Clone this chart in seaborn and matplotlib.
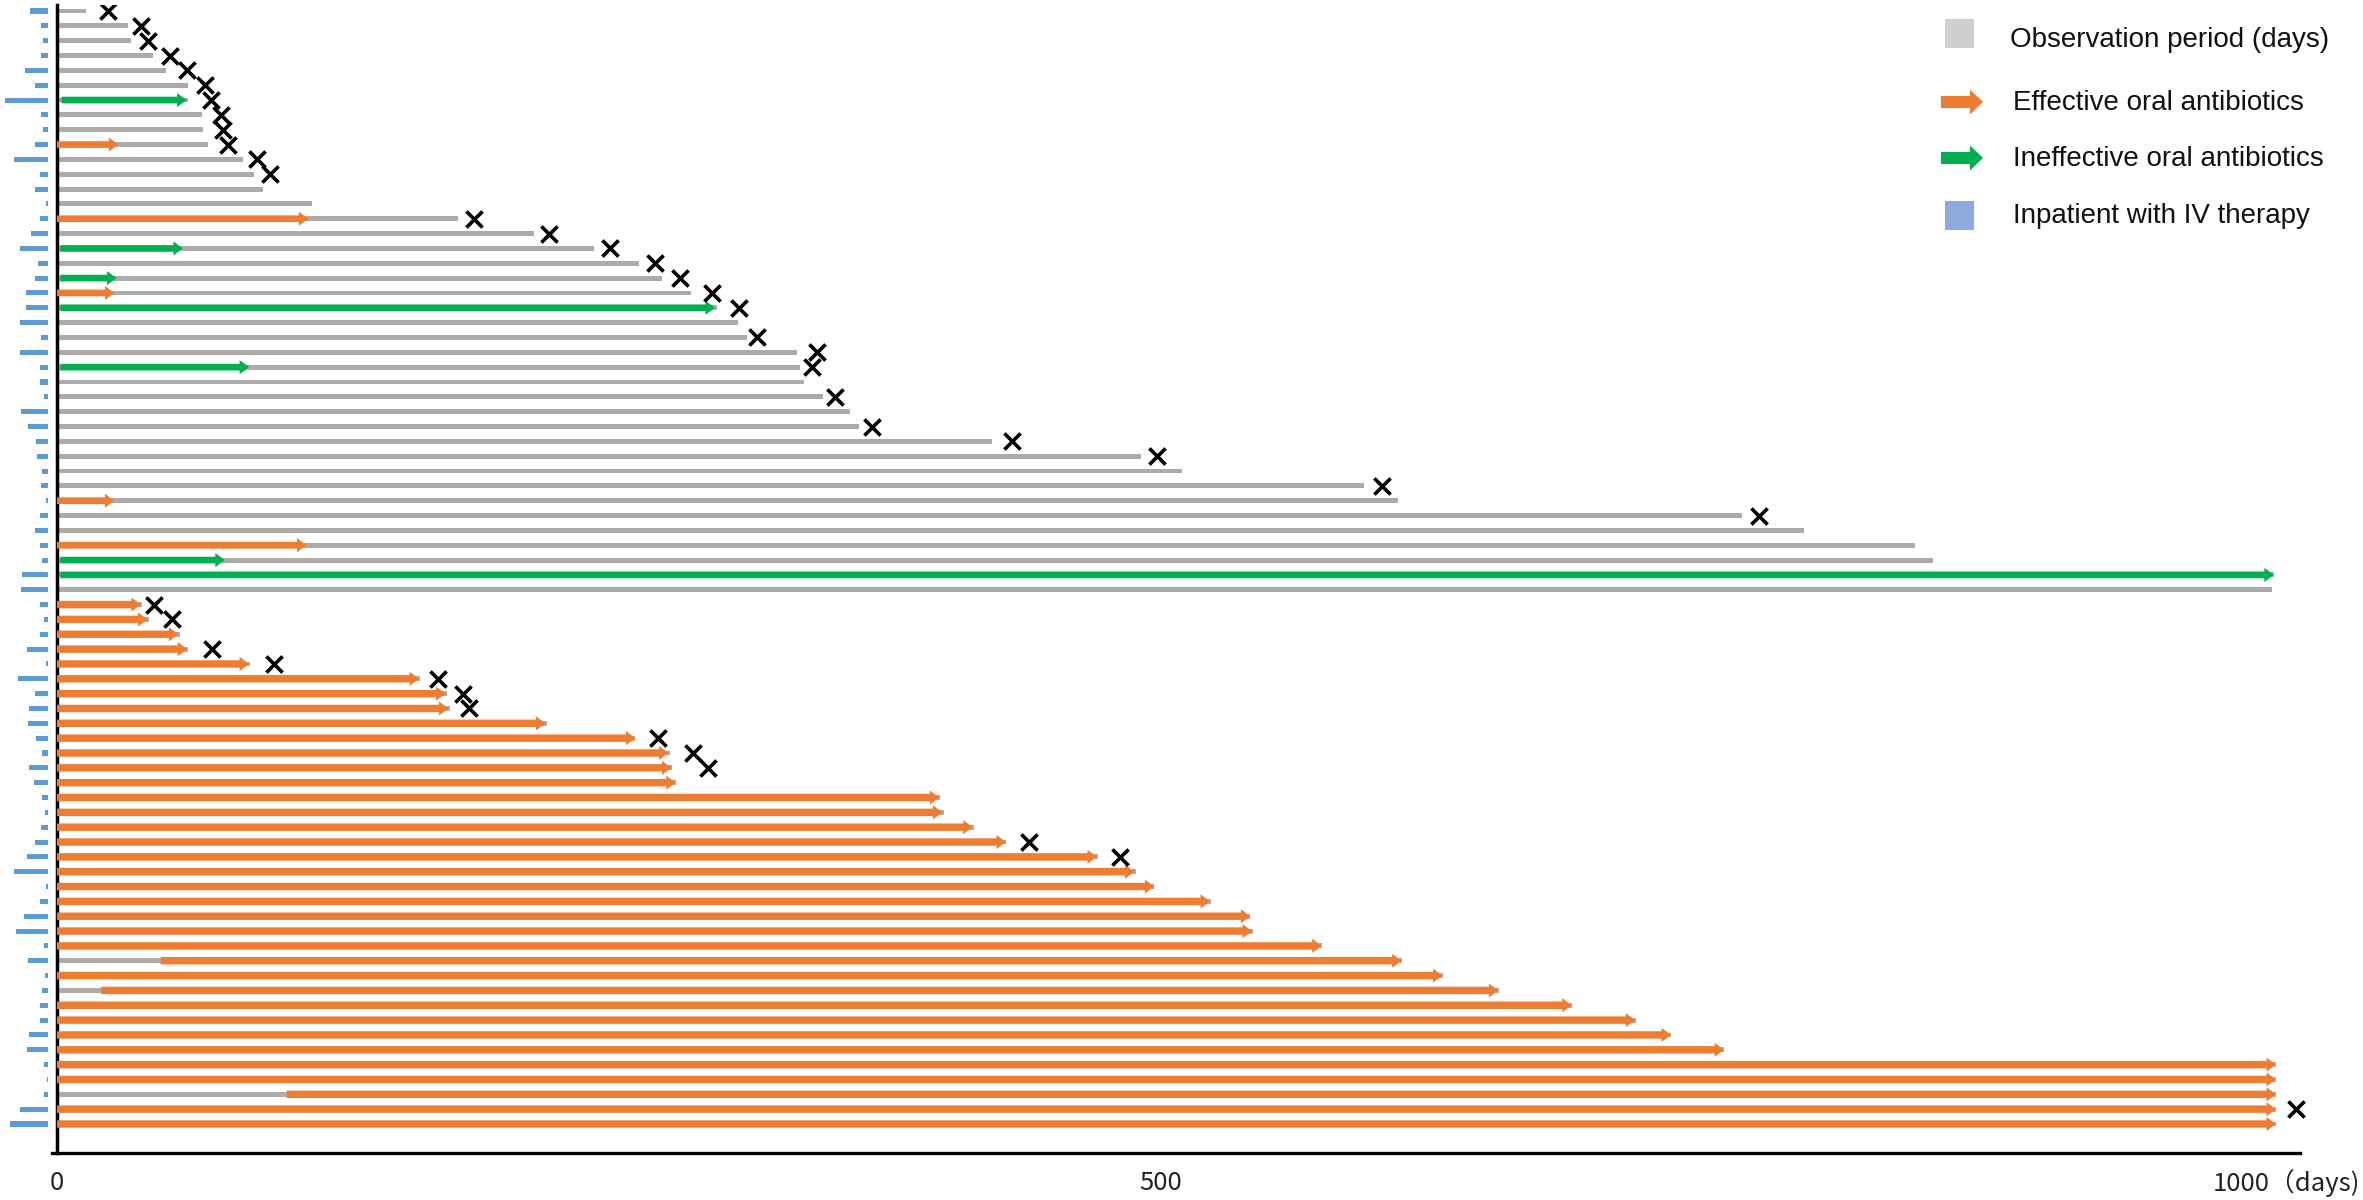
import matplotlib
matplotlib.use("Agg")
import matplotlib.pyplot as plt
from matplotlib.patches import Rectangle, FancyArrow
import pandas as pd
import seaborn as sns

GRAY = "#AEAAAA"
ORANGE = "#ED7D31"
GREEN = "#00B050"
BLUE = "#5B9BD5"
LEG_GRAY = "#D0CECE"
LEG_BLUE = "#8FAADC"

# observation period per patient (days), top to bottom
obs_days = [13, 32.3, 33.4, 43.3, 49.4, 59.2, 59.5, 65.5, 66.3, 68.2,
            84.1, 89.2, 93.2, 115.3, 181.5, 216, 243, 263.5, 274, 287,
            299, 308.5, 312.5, 335, 336.5, 338.5, 347, 359, 363, 423.4,
            491, 509.5, 592, 607.4, 763, 791, 841.5, 849.6, 1004, 1003,
            38.5, 41.5, 55.5, 59.5, 87.5, 164.5, 176.5, 177.8, 222, 262,
            277.5, 278.5, 280.5, 400, 401.5, 415.5, 430, 471.5, 488.5, 497,
            522.5, 540.5, 541.5, 573, 609, 627.5, 653, 686, 715, 731,
            755, 1005, 1005, 1005, 1005, 1005]

# oral antibiotics: "eff" = effective, "ineff" = ineffective, "" = none
abx_type = ["", "", "", "", "", "", "ineff", "", "", "eff",
            "", "", "", "", "eff", "", "ineff", "", "ineff", "eff",
            "ineff", "", "", "", "ineff", "", "", "", "", "",
            "", "", "", "eff", "", "", "eff", "ineff", "ineff", ""] + ["eff"] * 36
abx_start = [0, 0, 0, 0, 0, 0, 2, 0, 0, 0,
             0, 0, 0, 0, 0, 0, 1.5, 0, 1.5, 0,
             1.5, 0, 0, 0, 1.5, 0, 0, 0, 0, 0,
             0, 0, 0, 0, 0, 0, 0, 1.5, 1.5, 0,
             0, 0, 0, 0, 0, 0, 0, 0, 0, 0,
             0, 0, 0, 0, 0, 0, 0, 0, 0, 0,
             0, 0, 0, 0, 47, 0, 20, 0, 0, 0,
             0, 0, 0, 104, 0, 0]
abx_end = [0, 0, 0, 0, 0, 0, 58.7, 0, 0, 27.8,
           0, 0, 0, 0, 113.8, 0, 57, 0, 27, 26,
           298, 0, 0, 0, 87, 0, 0, 0, 0, 0,
           0, 0, 0, 26, 0, 0, 113, 76, 1004, 0,
           38, 41, 55, 59, 87, 164, 176, 177.3, 221.2, 262,
           277, 278.3, 280.2, 399.6, 401, 414.7, 429.8, 471, 488, 497,
           522.2, 540.5, 541.2, 572.8, 609, 627.5, 652.8, 686, 714.8, 731,
           755, 1005, 1005, 1005, 1005, 1005]

# day of the event marked with x (None = no event)
event_day = [23, 38, 41, 51, 58.7, 67.2, 69.7, 74.3, 75, 77.6,
             90.4, 96.5, None, None, 189, 223, 250.5, 271, 282, 296.5,
             309, None, 317, 344, 342, None, 352.4, None, 369, 432.5,
             498, None, 600, None, 771, None, None, None, None, None,
             44, 52, None, 70, 98.5, 172.6, 184, 186.4, None, 272,
             288, 295, None, None, None, None, 440.3, 481.5, None, None,
             None, None, None, None, None, None, None, None, None, None,
             None, None, None, None, 1014, None]

# inpatient IV therapy (days)
iv_days = [8, 3, 2.3, 3, 10.6, 6, 19.6, 3.3, 2.3, 5.7,
           15.6, 3.8, 6, 1, 3.8, 7.6, 12.8, 4.5, 6, 10,
           10, 12.8, 3.3, 12.8, 3.8, 3.8, 1.8, 12, 9, 5.3,
           4.8, 2.6, 3.3, 0.8, 3.8, 6, 3.8, 2.6, 11.6, 12.4,
           3.8, 1.8, 3.5, 9.4, 1, 13.6, 5.7, 8.8, 9, 5.3,
           2.6, 8.8, 6.5, 2.6, 1.2, 3, 5.7, 9.4, 15.6, 1,
           3.8, 11, 14.3, 2, 9, 1.2, 2.6, 3.5, 3.5, 8.6,
           9.4, 2, 0.5, 2, 12.5, 17]

legend_labels = ["Observation period (days)", "Effective oral antibiotics",
                 "Ineffective oral antibiotics", "Inpatient with IV therapy"]

df = pd.DataFrame({"patient": range(len(obs_days)), "obs": obs_days,
                   "abx": abx_type, "start": abx_start, "end": abx_end,
                   "event": event_day, "iv": iv_days})

sns.set_theme(style="white")
plt.rcParams["font.family"] = ["Liberation Sans", "DejaVu Sans"]
TICK_FONT = ["Noto Sans CJK JP", "DejaVu Sans"]

W, H = 2363, 1200
fig = plt.figure(figsize=(W / 100, H / 100), dpi=100)
fig.patch.set_facecolor("white")

# pixel layout of the plotting area
x0_px, px_per_day = 57, 2.208
row0_px, px_per_row = 11, 14.84
top_px, bottom_px = 5, 1153
ax = fig.add_axes([0, (H - bottom_px) / H, 1, (bottom_px - top_px) / H])

# observation period (gray)
sns.barplot(data=df, x="obs", y="patient", orient="h", color=GRAY,
            width=0.33, saturation=1, errorbar=None, linewidth=0, ax=ax)

# IV therapy, drawn left of the axis
gap = 4.1
ax.barh(df["patient"], df["iv"], left=-gap - df["iv"], height=0.34,
        color=BLUE, linewidth=0)

# oral antibiotic arrows
for _, r in df[df["abx"] != ""].iterrows():
    col = ORANGE if r["abx"] == "eff" else GREEN
    w = 0.5 if r["patient"] >= 40 else 0.45
    ax.arrow(r["start"], r["patient"], r["end"] - r["start"], 0,
             width=w, head_width=0.95, head_length=4.3,
             length_includes_head=True, fc=col, ec="none", lw=0, zorder=3)

# events
ev = df.dropna(subset=["event"])
ax.scatter(ev["event"], ev["patient"], marker="x", s=135, c="black",
           linewidths=2.6, zorder=5)

ax.set_xlim(-x0_px / px_per_day, (W - x0_px) / px_per_day)
ax.set_ylim((bottom_px - row0_px) / px_per_row, (top_px - row0_px) / px_per_row)
ax.set_yticks([])
ax.set_ylabel("")
ax.set_xlabel("")
ax.set_xticks([])
for s in ("top", "right"):
    ax.spines[s].set_visible(False)
ax.spines["left"].set_position(("data", 0))
ax.spines["left"].set_linewidth(2.5)
ax.spines["left"].set_color("black")
ax.spines["bottom"].set_linewidth(2.4)
ax.spines["bottom"].set_color("black")
ax.spines["bottom"].set_bounds(-2.3, 1016)

tick_y = -(1183 - bottom_px) / (bottom_px - top_px)
for val, txt, ha in [(0, "0", "center"), (500, "500", "center"),
                     (976.5, "1000（days)", "left")]:
    ax.text(val, tick_y, txt, transform=ax.get_xaxis_transform(), ha=ha,
            va="center", fontsize=18.5, color="#222222", family=TICK_FONT)

# legend in pixel coordinates
lax = fig.add_axes([0, 0, 1, 1])
lax.set_xlim(0, W)
lax.set_ylim(H, 0)
lax.axis("off")
lax.patch.set_alpha(0)
lax.add_patch(Rectangle((1945, 19), 29, 29, color=LEG_GRAY, lw=0))
lax.add_patch(FancyArrow(1941, 102, 42, 0, width=12, head_width=25,
                         head_length=13, length_includes_head=True,
                         color=ORANGE, lw=0))
lax.add_patch(FancyArrow(1941, 158, 42, 0, width=12, head_width=25,
                         head_length=13, length_includes_head=True,
                         color=GREEN, lw=0))
lax.add_patch(Rectangle((1945, 201), 29, 29, color=LEG_BLUE, lw=0))
for (lx, ly), lab in zip([(2010, 40), (2013, 103), (2013, 159), (2013, 216)],
                         legend_labels):
    lax.text(lx, ly, lab, ha="left", va="center", fontsize=20, color="#111111")

fig.savefig("out.png", dpi=100, facecolor="white")
